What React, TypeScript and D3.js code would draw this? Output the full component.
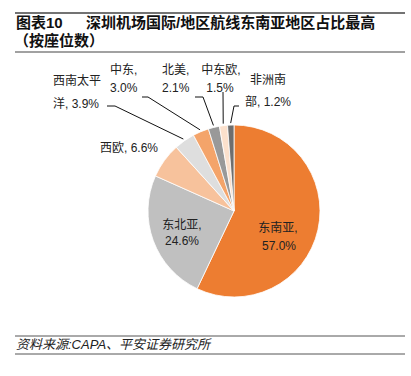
import React from "react";
import * as d3 from "d3";

const categories = ["东南亚", "东北亚", "西欧", "西南太平洋", "中东", "北美", "中东欧", "非洲南部"];
const values = [57.0, 24.6, 6.6, 3.9, 3.0, 2.1, 1.5, 1.2];
const colors = ["#ED7D31", "#C0C0C0", "#F7C29C", "#DEDEDE", "#F4A46A", "#999999", "#FBE0CC", "#6E6E6E"];
const labelLines = [
  ["东南亚,", "57.0%"],
  ["东北亚,", "24.6%"],
  ["西欧, 6.6%"],
  ["西南太平", "洋, 3.9%"],
  ["中东,", "3.0%"],
  ["北美,", "2.1%"],
  ["中东欧,", "1.5%"],
  ["非洲南", "部, 1.2%"],
];
const titleLine1a = "图表10";
const titleLine1b = "深圳机场国际/地区航线东南亚地区占比最高";
const titleLine2 = "（按座位数）";
const sourceText = "资料来源:CAPA、平安证券研究所";

// label layout: per line [x, y(center), anchor]
const labelLayout: [number, number, string][][] = [
  [[278, 228, "middle"], [279, 246, "middle"]],
  [[182, 225, "middle"], [182, 241, "middle"]],
  [[100, 148, "start"]],
  [[53, 81, "start"], [53, 104, "start"]],
  [[110, 70, "start"], [110, 88, "start"]],
  [[162, 70, "start"], [162, 88, "start"]],
  [[221, 70, "middle"], [220, 88, "middle"]],
  [[250, 80, "start"], [245, 102, "start"]],
];
// leader elbows (label side), null = none
const leaders: ([number, number][] | null)[] = [
  null,
  null,
  null,
  [[107, 106], [115, 106]],
  [[142, 97], [148, 97]],
  [[195, 97], [203, 97]],
  [[223, 92]],
  [[239, 106], [234, 106]],
];

const W = 411, H = 376;
const cx = 234, cy = 211, R = 86;
const font = "'Liberation Sans', Arial, 'Noto Sans CJK SC', sans-serif";

export default function App() {
  const pie = d3.pie<number>().sort(null).value((d) => d)(values);
  const arc = d3.arc<d3.PieArcDatum<number>>().innerRadius(0).outerRadius(R);
  return (
    <svg width={W} height={H} style={{ position: "absolute", left: 0, top: 0, background: "#fff" }}>
      <rect width={W} height={H} fill="#fff" />
      <line x1={15} x2={405} y1={13} y2={13} stroke="#444" strokeWidth={1.3} />
      <text x={16} y={28} fontFamily={font} fontSize={15} fontWeight="bold" fill="#111">{titleLine1a}</text>
      <text x={86} y={28} fontFamily={font} fontSize={15} fontWeight="bold" fill="#111">{titleLine1b}</text>
      <text x={14} y={46} fontFamily={font} fontSize={15} fontWeight="bold" fill="#111">{titleLine2}</text>
      <line x1={15} x2={405} y1={52} y2={52} stroke="#444" strokeWidth={1.2} />
      <g transform={`translate(${cx},${cy})`}>
        {pie.map((p, i) => (
          <path key={i} d={arc(p) || ""} fill={colors[i]} stroke="#fff" strokeWidth={0.8} />
        ))}
      </g>
      {pie.map((p, i) => {
        const pts = leaders[i];
        if (!pts) return null;
        const a = (p.startAngle + p.endAngle) / 2;
        const end: [number, number] = [cx + (R + 2) * Math.sin(a), cy - (R + 2) * Math.cos(a)];
        const all = [...pts, end];
        return (
          <path key={"l" + i} d={d3.line()(all) || ""} fill="none" stroke="#111" strokeWidth={1} />
        );
      })}
      {labelLines.map((lines, i) =>
        lines.map((t, j) => {
          const [x, y, anchor] = labelLayout[i][j];
          return (
            <text key={i + "-" + j} x={x} y={y + 4.3} textAnchor={anchor as any} fontFamily={font} fontSize={12} fill="#222">
              {t}
            </text>
          );
        })
      )}
      <line x1={15} x2={405} y1={336} y2={336} stroke="#555" strokeWidth={1} />
      <text x={16} y={349} fontFamily={font} fontSize={13} fontStyle="italic" fill="#222">{sourceText}</text>
      <line x1={15} x2={405} y1={354} y2={354} stroke="#555" strokeWidth={1} />
    </svg>
  );
}
